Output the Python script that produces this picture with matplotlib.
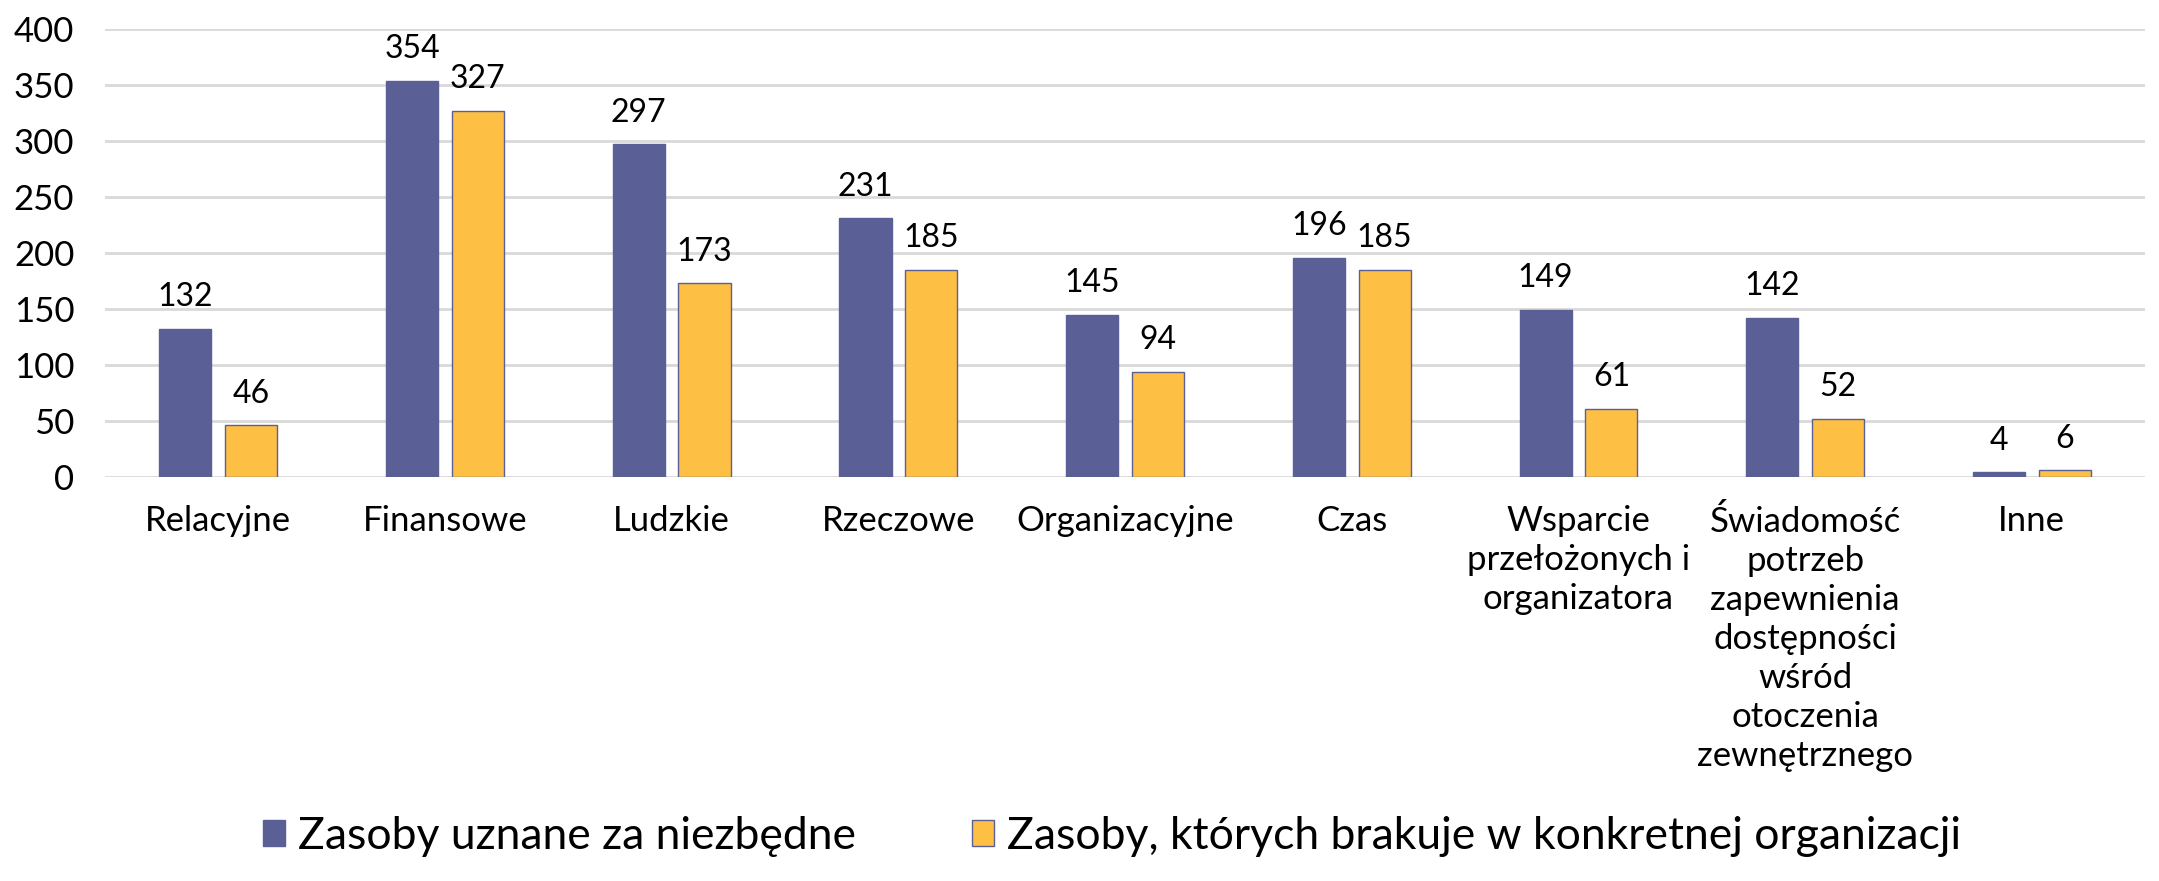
import numpy as np
import matplotlib.pyplot as plt

categories = ["Relacyjne", "Finansowe", "Ludzkie", "Rzeczowe", "Organizacyjne", "Czas",
              "Wsparcie\nprzełożonych i\norganizatora",
              "Świadomość\npotrzeb\nzapewnienia\ndostępności\nwśród\notoczenia\nzewnętrznego",
              "Inne"]
needed = [132, 354, 297, 231, 145, 196, 149, 142, 4]
missing = [46, 327, 173, 185, 94, 185, 61, 52, 6]
series_names = ["Zasoby uznane za niezbędne",
                "Zasoby, których brakuje w konkretnej organizacji"]

BLUE = "#5A5F96"
ORANGE = "#FEC044"

plt.rcParams['font.family'] = ['Lato', 'DejaVu Sans']

fig = plt.figure(figsize=(21.59, 8.81), dpi=100)
ax = fig.add_axes([0.0486, 0.4586, 0.945, 0.5084])

x = np.arange(len(categories))
w = 0.23
off = 0.145
b1 = ax.bar(x - off, needed, w, color=BLUE, edgecolor=BLUE, linewidth=1, label=series_names[0], zorder=3)
b2 = ax.bar(x + off, missing, w, color=ORANGE, edgecolor=BLUE, linewidth=1, label=series_names[1], zorder=3)

for bars in (b1, b2):
    ax.bar_label(bars, padding=12, fontsize=23)

ax.set_xlim(-0.5, len(categories) - 0.5)
ax.set_ylim(0, 400)
ax.set_yticks(range(0, 401, 50))
ax.yaxis.grid(True, color="#D9D9D9", linewidth=2, zorder=0)
ax.set_axisbelow(True)
for s in ax.spines.values():
    s.set_visible(False)
ax.set_xticks(x)
ax.set_xticklabels(categories, fontsize=25, linespacing=1.27, va='top')
ax.tick_params(axis='both', length=0)
ax.tick_params(axis='y', labelsize=25, pad=22)
ax.tick_params(axis='x', pad=20)

fig.legend(loc='lower center', bbox_to_anchor=(0.515, -0.018), ncol=2, frameon=False,
           fontsize=32, handlelength=0.5, handleheight=0.5, handletextpad=0.3,
           columnspacing=2.6)

fig.savefig("out.png", dpi=100)
